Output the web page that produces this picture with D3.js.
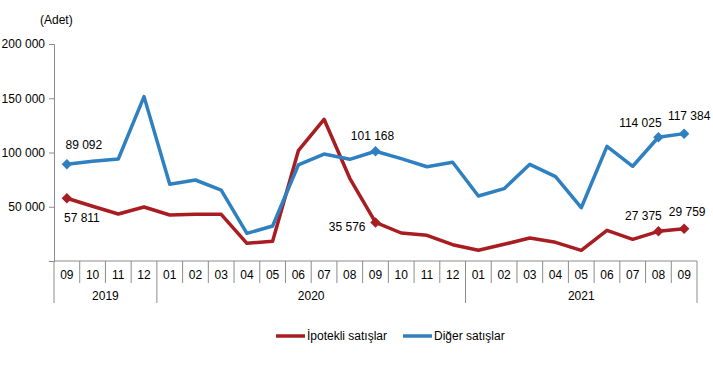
<!DOCTYPE html>
<html><head><meta charset="utf-8">
<script src="https://cdn.jsdelivr.net/npm/d3@7"></script>
<style>body{margin:0;background:#fff}svg{display:block;font-family:"Liberation Sans",Arial,sans-serif}</style>
</head><body><svg id="c" width="713" height="378"></svg>
<script>
const months = ["09","10","11","12","01","02","03","04","05","06","07","08","09","10","11","12","01","02","03","04","05","06","07","08","09"];
const years = [{label:"2019", start:0, end:4},{label:"2020", start:4, end:16},{label:"2021", start:16, end:25}];
const ipotekli = [57811,50500,43300,49800,42400,43000,43000,16300,18150,101700,130600,76200,35576,25800,23700,15000,9850,15400,21200,17200,9850,28300,20000,27375,29759];
const diger = [89092,92000,94000,151500,70700,74650,65400,25500,32250,88500,98600,93700,101168,94300,86900,91000,59900,66650,89100,77700,49100,105700,87300,114025,117384];
const yTicks = [0,50000,100000,150000,200000];
const seriesNames = ["İpotekli satışlar","Diğer satışlar"];
const colors = ["#a81d22","#2f80c0"];
const markIdx = [0,12,23,24];
const fmt = v => d3.format(",")(v).replace(/,/g," ");

const svg = d3.select("#c");
const L=54, R=697, T=44, B=261;
const x = d3.scaleBand().domain(d3.range(months.length)).range([L,R]);
const y = d3.scaleLinear().domain([0,200000]).range([B,T]);
const axisCol = "#8c8c8c";

// y axis
const ya = svg.append("g").attr("transform",`translate(${L},0)`)
  .call(d3.axisLeft(y).tickValues(yTicks).tickSize(5).tickFormat(d=>d===0?"":fmt(d)));
ya.select(".domain").attr("stroke",axisCol);
ya.selectAll(".tick line").attr("stroke",axisCol);
ya.selectAll("text").attr("font-size",12).attr("fill","#000").attr("x",-9).attr("font-family","Liberation Sans, Arial, sans-serif");
svg.append("text").attr("x",40).attr("y",24).attr("font-size",12).text("(Adet)");

// x axis
svg.append("line").attr("x1",L).attr("x2",R).attr("y1",B).attr("y2",B).attr("stroke",axisCol);
months.forEach((m,i)=>{
  svg.append("text").attr("x",x(i)+x.bandwidth()/2).attr("y",B+18).attr("text-anchor","middle").attr("font-size",12).text(m);
});
const monthLines = d3.range(1,months.length).filter(i=>!years.some(yy=>yy.start===i));
monthLines.forEach(i=>{
  svg.append("line").attr("x1",x(i)).attr("x2",x(i)).attr("y1",B).attr("y2",B+22).attr("stroke",axisCol);
});
const yearEdges = [0,...years.map(yy=>yy.end)];
yearEdges.forEach(i=>{
  const xx = i<months.length ? x(i) : R;
  svg.append("line").attr("x1",xx).attr("x2",xx).attr("y1",B).attr("y2",B+42).attr("stroke",axisCol);
});
years.forEach(yy=>{
  const x0 = x(yy.start), x1 = yy.end<months.length ? x(yy.end) : R;
  svg.append("text").attr("x",(x0+x1)/2).attr("y",B+39).attr("text-anchor","middle").attr("font-size",12).text(yy.label);
});

// lines
const line = d3.line().x((d,i)=>x(i)+x.bandwidth()/2).y(d=>y(d));
[ipotekli,diger].forEach((s,k)=>{
  svg.append("path").datum(s).attr("d",line).attr("fill","none").attr("stroke",colors[k]).attr("stroke-width",3.5).attr("stroke-linejoin","round");
});
// markers
const diamond = d3.symbol().type(d3.symbolDiamond2).size(70);
[ipotekli,diger].forEach((s,k)=>{
  markIdx.forEach(i=>{
    svg.append("path").attr("d",diamond).attr("fill",colors[k])
      .attr("transform",`translate(${x(i)+x.bandwidth()/2},${y(s[i])})`);
  });
});
// labels
const labelOff = {
  d0:[17,-20,"middle"], d12:[-3,-15,"middle"], d23:[-18,-14,"middle"], d24:[5,-18,"middle"],
  i0:[15,20,"middle"], i12:[-10,4,"end"], i23:[-15,-15,"middle"], i24:[3,-17,"middle"]
};
[["i",ipotekli],["d",diger]].forEach(([p,s])=>{
  markIdx.forEach(i=>{
    const o = labelOff[p+i];
    svg.append("text").attr("x",x(i)+x.bandwidth()/2+o[0]).attr("y",y(s[i])+o[1]).attr("dy","0.35em")
      .attr("text-anchor",o[2]).attr("font-size",12).text(fmt(s[i]));
  });
});

// legend
const lg = [[276,305,307],[403,432,434]];
seriesNames.forEach((n,k)=>{
  svg.append("line").attr("x1",lg[k][0]).attr("x2",lg[k][1]).attr("y1",336).attr("y2",336).attr("stroke",colors[k]).attr("stroke-width",3.5);
  svg.append("text").attr("x",lg[k][2]).attr("y",336).attr("dy","0.35em").attr("font-size",12).text(n);
});
</script></body></html>
